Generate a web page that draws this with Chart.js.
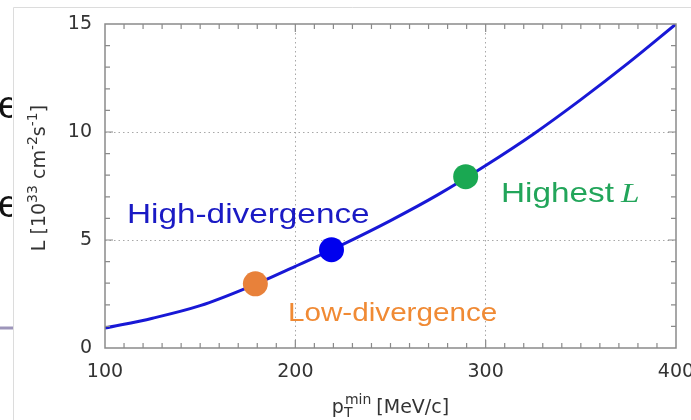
<!DOCTYPE html>
<html>
<head>
<meta charset="utf-8">
<script src="https://cdn.jsdelivr.net/npm/chart.js@4/dist/chart.umd.min.js"></script>
<style>
  html, body { margin: 0; padding: 0; background: #fff; }
  #wrap { width: 691px; height: 420px; }
</style>
</head>
<body>
<div id="wrap"><canvas id="lumiChart"></canvas></div>
<script>
// curve: pT min [MeV/c] vs L [1e33 cm^-2 s^-1]
var ptValues = [100, 125, 150, 175, 200, 225, 250, 275, 300, 325, 350, 375, 400];
var lumiValues = [0.92, 1.38, 1.96, 2.8, 3.78, 4.8, 5.9, 7.1, 8.45, 9.9, 11.5, 13.2, 15.0];

// the three marked working points
var markNames = ["Low-divergence", "High-divergence", "Highest"];
var markPt = [179, 219, 289.5];
var markLumi = [2.97, 4.55, 7.93];
var markColors = ["#e8813a", "#0000ee", "#1aa852"];

var xTicks = [100, 200, 300, 400];
var yTicks = [0, 5, 10, 15];

var curve = [];
for (var i = 0; i < ptValues.length; ++i) {
    curve.push({ x: ptValues[i], y: lumiValues[i] });
}

var pointSets = [];
for (var j = 0; j < markNames.length; ++j) {
    pointSets.push({
        label: markNames[j],
        data: [{ x: markPt[j], y: markLumi[j] }],
        backgroundColor: markColors[j],
        borderColor: markColors[j],
        pointRadius: 12.5,
        pointHoverRadius: 12.5,
        borderWidth: 0,
        order: 0
    });
}

/* frame, inward ticks, axis titles and the slide leftovers */
var decoPlugin = {
    id: 'deco',
    beforeDraw: function (chart) {
        var ctx = chart.ctx;
        ctx.save();
        ctx.fillStyle = '#fff';
        ctx.fillRect(0, 0, chart.width, chart.height);
        // slide frame
        ctx.strokeStyle = '#dcdcdc';
        ctx.lineWidth = 1;
        ctx.beginPath();
        ctx.moveTo(13.5, 420);
        ctx.lineTo(13.5, 7.5);
        ctx.lineTo(691, 7.5);
        ctx.stroke();
        ctx.strokeStyle = '#9d95ba';
        ctx.lineWidth = 3;
        ctx.beginPath();
        ctx.moveTo(0, 328);
        ctx.lineTo(13, 328);
        ctx.stroke();
        // cut-off letters of the slide text
        ctx.beginPath();
        ctx.rect(0, 0, 12, 420);
        ctx.clip();
        ctx.fillStyle = '#111';
        ctx.font = '38px "Liberation Sans", Arial, sans-serif';
        ctx.textAlign = 'left';
        ctx.textBaseline = 'alphabetic';
        ctx.fillText('e', -2, 118);
        ctx.fillText('e', -2, 217);
        ctx.restore();
    },
    afterDatasetsDraw: function (chart) {
        var ctx = chart.ctx;
        var a = chart.chartArea;
        var xs = chart.scales.x, ys = chart.scales.y;
        ctx.save();
        ctx.strokeStyle = '#8a8a8a';
        ctx.lineWidth = 1.5;
        ctx.strokeRect(a.left, a.top, a.right - a.left, a.bottom - a.top);
        ctx.lineWidth = 1.2;
        ctx.beginPath();
        for (var v = 110; v < 400; v += 10) {
            var px = xs.getPixelForValue(v);
            var len = (v % 100 === 0) ? 8 : 5;
            ctx.moveTo(px, a.bottom); ctx.lineTo(px, a.bottom - len);
            ctx.moveTo(px, a.top); ctx.lineTo(px, a.top + len);
        }
        for (var w = 1; w < 15; w++) {
            var py = ys.getPixelForValue(w);
            var l2 = (w % 5 === 0) ? 8 : 5;
            ctx.moveTo(a.left, py); ctx.lineTo(a.left + l2, py);
            ctx.moveTo(a.right, py); ctx.lineTo(a.right - l2, py);
        }
        ctx.stroke();

        ctx.fillStyle = '#333';
        ctx.textBaseline = 'alphabetic';
        // x title
        var big = '19px "DejaVu Sans", sans-serif';
        var small = '14px "DejaVu Sans", sans-serif';
        ctx.font = big; var wp = ctx.measureText('p').width;
        ctx.font = small; var wT = ctx.measureText('T').width; var wm = ctx.measureText('min').width;
        ctx.font = big; var wr = ctx.measureText(' [MeV/c]').width;
        var total = wp + Math.max(wT, wm) + wr;
        var x0 = (a.left + a.right) / 2 - total / 2;
        var base = 413;
        ctx.textAlign = 'left';
        ctx.font = big; ctx.fillText('p', x0, base);
        ctx.font = small; ctx.fillText('T', x0 + wp, base + 4); ctx.fillText('min', x0 + wp + 1, base - 9);
        ctx.font = big; ctx.fillText(' [MeV/c]', x0 + wp + Math.max(wT, wm), base);

        // y title, rotated
        var parts = [['L [10', 0], ['33', 1], [' cm', 0], ['-2', 1], ['s', 0], ['-1', 1], [']', 0]];
        var yb = '19px "DejaVu Sans", sans-serif';
        var ysm = '14px "DejaVu Sans", sans-serif';
        var tw = 0;
        for (var k = 0; k < parts.length; k++) {
            ctx.font = parts[k][1] ? ysm : yb;
            tw += ctx.measureText(parts[k][0]).width;
        }
        ctx.translate(45, 178);
        ctx.rotate(-Math.PI / 2);
        var cx = -tw / 2;
        for (var m = 0; m < parts.length; m++) {
            ctx.font = parts[m][1] ? ysm : yb;
            ctx.fillText(parts[m][0], cx, parts[m][1] ? -8 : 0);
            cx += ctx.measureText(parts[m][0]).width;
        }
        ctx.restore();

        // labels of the working points (picture text is stretched wide)
        drawWide(ctx, 'High-divergence', 127, 223, '#1a1ac4', '28px "Liberation Sans", Arial, sans-serif', 1.19);
        drawWide(ctx, 'Low-divergence', 288, 321, '#f08a34', '26px "Liberation Sans", Arial, sans-serif', 1.14);
        drawWide(ctx, 'Highest', 501, 202, '#22a55a', '28px "Liberation Sans", Arial, sans-serif', 1.19);
        drawWide(ctx, 'L', 621, 202, '#22a55a', 'italic 28px "Liberation Serif", "DejaVu Serif", serif', 1.19);
    }
};

function drawWide(ctx, text, x, y, color, font, stretch) {
    ctx.save();
    ctx.font = font;
    ctx.fillStyle = color;
    ctx.textAlign = 'left';
    ctx.textBaseline = 'alphabetic';
    ctx.translate(x, y);
    ctx.scale(stretch, 1);
    ctx.fillText(text, 0, 0);
    ctx.restore();
}

var ctx = document.getElementById('lumiChart');
var lumiChart = new Chart(ctx, {
    type: 'scatter',
    data: {
        datasets: pointSets.concat([{
            label: 'L',
            data: curve,
            showLine: true,
            borderColor: '#1818d6',
            borderWidth: 3,
            pointRadius: 0,
            tension: 0.35,
            order: 1
        }])
    },
    options: {
        responsive: true,
        maintainAspectRatio: false,
        animation: false,
        devicePixelRatio: 1,
        layout: { padding: { top: 24, right: 15, bottom: 0, left: 0 } },
        plugins: {
            legend: { display: false },
            tooltip: { enabled: false }
        },
        scales: {
            x: {
                type: 'linear',
                min: 100,
                max: 400,
                afterFit: function (s) { s.height = 72; s.paddingRight = 0; s.paddingLeft = 0; },
                afterBuildTicks: function (s) { s.ticks = xTicks.map(function (v) { return { value: v }; }); },
                border: { display: false, dash: [1.5, 3] },
                grid: {
                    drawTicks: false,
                    color: function (c) { return (c.tick && (c.tick.value === 100 || c.tick.value === 400)) ? 'rgba(0,0,0,0)' : '#a8a8a8'; },
                    lineWidth: 1
                },
                ticks: {
                    padding: 13,
                    color: '#333',
                    font: { family: '"DejaVu Sans", sans-serif', size: 19 },
                    maxRotation: 0
                }
            },
            y: {
                min: 0,
                max: 15,
                afterFit: function (s) { s.width = 105; s.paddingTop = 0; s.paddingBottom = 0; },
                afterBuildTicks: function (s) { s.ticks = yTicks.map(function (v) { return { value: v }; }); },
                border: { display: false, dash: [1.5, 3] },
                grid: {
                    drawTicks: false,
                    color: function (c) { return (c.tick && (c.tick.value === 0 || c.tick.value === 15)) ? 'rgba(0,0,0,0)' : '#a8a8a8'; },
                    lineWidth: 1
                },
                ticks: {
                    padding: 13,
                    color: '#333',
                    font: { family: '"DejaVu Sans", sans-serif', size: 19 }
                }
            }
        }
    },
    plugins: [decoPlugin]
});
</script>
</body>
</html>
